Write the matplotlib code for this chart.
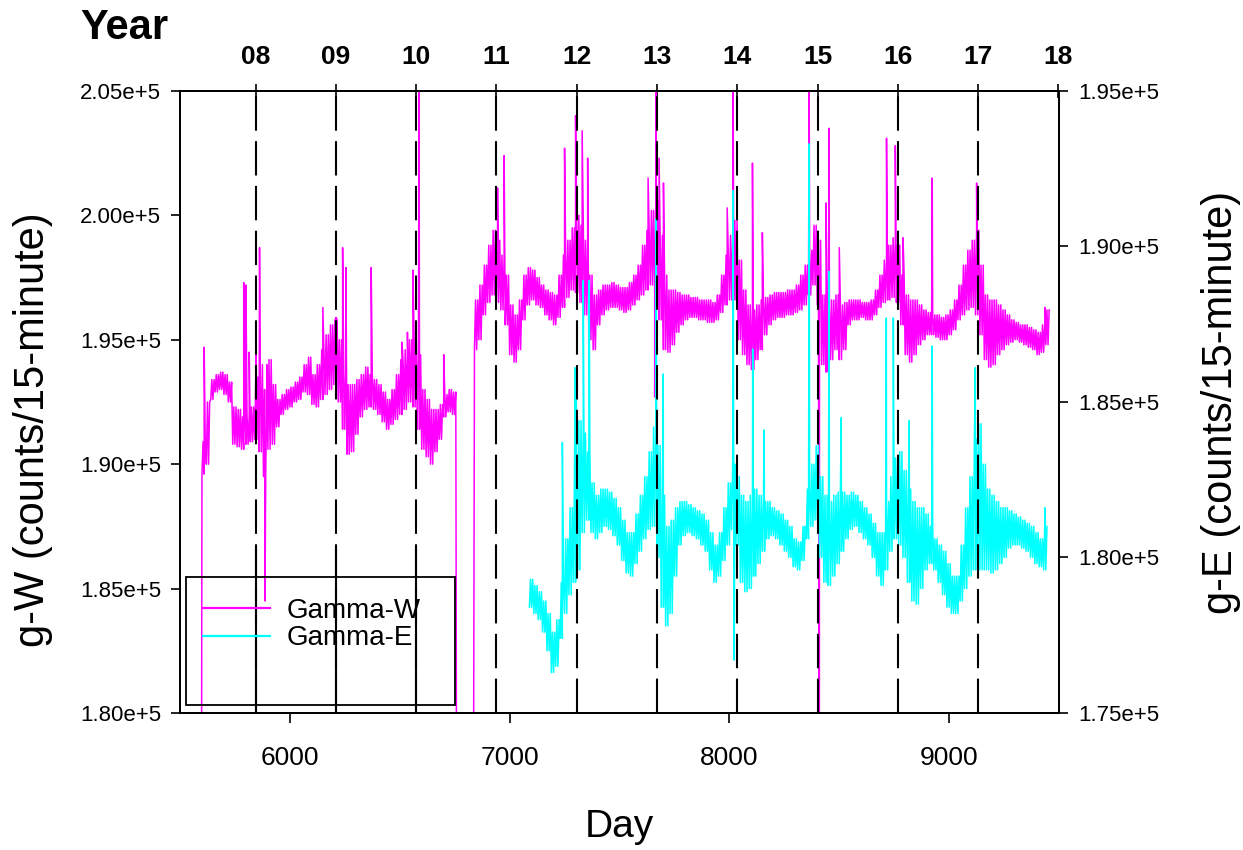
import numpy as np
import matplotlib.pyplot as plt
from matplotlib.patches import Rectangle
from matplotlib.ticker import FuncFormatter

plt.rcParams["font.family"] = ["Liberation Sans", "DejaVu Sans"]

# noise band of the 15-minute counts: (day, low, high) in 1000 counts
gamma_w_part1 = [
    (5600, 189.6, 190.9), (5620, 190.0, 192.5), (5640, 192.6, 193.4), (5660, 192.9, 193.6),
    (5680, 193.0, 193.7), (5700, 192.8, 193.6), (5720, 192.5, 193.3), (5740, 190.8, 192.3),
    (5760, 190.7, 192.2), (5780, 190.6, 191.9), (5800, 190.8, 192.0), (5820, 190.9, 192.3),
    (5840, 191.0, 193.5), (5860, 190.5, 194.0), (5880, 189.5, 193.0), (5900, 190.6, 194.2),
    (5920, 190.8, 193.2), (5940, 191.5, 192.6), (5960, 192.0, 192.8), (5980, 192.2, 193.0),
    (6000, 192.3, 193.1), (6020, 192.5, 193.3), (6040, 192.6, 193.5), (6060, 192.9, 194.0),
    (6080, 192.8, 194.3), (6100, 192.4, 193.6), (6120, 192.3, 194.0), (6140, 192.6, 194.6),
    (6160, 192.8, 195.2), (6180, 193.0, 195.6), (6200, 193.2, 195.8), (6220, 192.5, 195.0),
    (6240, 191.4, 194.0), (6260, 190.4, 193.2), (6280, 190.5, 193.2), (6300, 191.2, 193.4),
    (6320, 191.9, 193.6), (6340, 192.2, 193.9), (6360, 192.3, 193.6), (6380, 192.2, 193.4),
    (6400, 192.0, 193.2), (6420, 191.7, 192.9), (6440, 191.4, 192.6), (6460, 191.6, 193.0),
    (6480, 191.8, 193.6), (6500, 192.0, 194.2), (6520, 192.2, 194.6), (6540, 192.5, 195.0),
    (6560, 192.3, 195.2), (6580, 191.4, 194.4), (6600, 190.6, 193.0), (6620, 190.3, 192.6),
    (6640, 190.0, 192.2), (6660, 190.5, 192.2), (6680, 191.0, 192.4), (6700, 191.9, 192.8),
    (6720, 192.1, 193.0), (6740, 192.0, 192.9),
]

gamma_w_part2 = [
    (6840, 194.6, 196.6), (6860, 195.0, 197.2), (6880, 196.0, 198.0), (6900, 196.5, 198.8),
    (6920, 196.8, 199.4), (6940, 196.5, 199.0), (6960, 196.2, 198.4), (6980, 195.6, 197.6),
    (7000, 194.4, 196.4), (7020, 194.1, 196.0), (7040, 194.6, 196.6), (7060, 195.8, 197.6),
    (7080, 196.4, 197.9), (7100, 196.6, 197.8), (7120, 196.4, 197.5), (7140, 196.3, 197.2),
    (7160, 196.0, 197.0), (7180, 195.8, 196.9), (7200, 195.6, 196.8), (7220, 195.9, 197.6),
    (7240, 196.3, 198.4), (7260, 196.7, 199.0), (7280, 197.0, 199.5), (7300, 196.9, 200.0),
    (7320, 196.5, 199.6), (7340, 196.0, 199.0), (7360, 195.0, 197.6), (7380, 194.6, 196.8),
    (7400, 195.6, 197.0), (7420, 196.0, 197.2), (7440, 196.2, 197.2), (7460, 196.3, 197.3),
    (7480, 196.3, 197.2), (7500, 196.2, 197.1), (7520, 196.1, 197.1), (7540, 196.2, 197.3),
    (7560, 196.4, 197.6), (7580, 196.6, 198.0), (7600, 196.8, 198.8), (7620, 197.0, 199.4),
    (7640, 197.2, 200.2), (7660, 197.0, 200.6), (7680, 195.8, 199.2), (7700, 194.6, 197.6),
    (7720, 194.5, 197.0), (7740, 194.8, 197.0), (7760, 195.3, 196.9), (7780, 195.6, 196.8),
    (7800, 195.8, 196.8), (7820, 195.9, 196.7), (7840, 195.9, 196.7), (7860, 195.8, 196.6),
    (7880, 195.8, 196.6), (7900, 195.7, 196.6), (7920, 195.7, 196.5), (7940, 195.8, 196.8),
    (7960, 196.1, 197.6), (7980, 196.4, 198.4), (8000, 196.6, 199.2), (8020, 196.6, 199.8),
    (8040, 195.0, 198.2), (8060, 194.4, 197.0), (8080, 194.0, 196.4), (8100, 193.8, 196.2),
    (8120, 194.2, 196.4), (8140, 194.6, 196.6), (8160, 195.2, 196.7), (8180, 195.6, 196.8),
    (8200, 195.8, 196.9), (8220, 195.9, 196.9), (8240, 195.9, 196.9), (8260, 196.0, 197.0),
    (8280, 196.0, 197.0), (8300, 196.1, 197.2), (8320, 196.2, 197.6), (8340, 196.4, 198.0),
    (8360, 196.8, 198.6), (8380, 197.2, 199.6), (8400, 196.4, 199.0), (8420, 194.0, 196.8),
    (8440, 193.7, 196.4), (8460, 194.2, 196.6), (8480, 194.6, 196.8), (8500, 194.2, 196.4),
    (8520, 194.6, 196.5), (8540, 195.6, 196.6), (8560, 195.8, 196.6), (8580, 195.8, 196.6),
    (8600, 195.9, 196.5), (8620, 195.8, 196.5), (8640, 195.8, 196.6), (8660, 196.0, 197.0),
    (8680, 196.3, 197.6), (8700, 196.5, 198.2), (8720, 196.6, 198.8), (8740, 196.7, 199.1),
    (8760, 196.5, 198.8), (8780, 195.6, 197.6), (8800, 194.4, 196.8), (8820, 194.1, 196.6),
    (8840, 194.4, 196.6), (8860, 194.8, 196.4), (8880, 195.0, 196.2), (8900, 195.2, 196.1),
    (8920, 195.2, 196.0), (8940, 195.1, 196.0), (8960, 195.0, 195.9), (8980, 195.0, 196.0),
    (9000, 195.2, 196.2), (9020, 195.4, 196.6), (9040, 195.8, 197.2), (9060, 196.0, 198.0),
    (9080, 196.2, 198.6), (9100, 196.3, 199.0), (9120, 196.0, 199.4), (9140, 195.2, 198.0),
    (9160, 194.2, 196.8), (9180, 193.9, 196.6), (9200, 194.0, 196.6), (9220, 194.4, 196.4),
    (9240, 194.6, 196.2), (9260, 194.8, 196.0), (9280, 194.9, 195.8), (9300, 195.0, 195.7),
    (9320, 194.9, 195.6), (9340, 194.8, 195.6), (9360, 194.7, 195.5), (9380, 194.6, 195.4),
    (9400, 194.4, 195.3), (9420, 194.5, 195.6), (9440, 194.8, 196.2),
]

# single readings that stick out of the band (170 = dropped below the axis)
gamma_w_spikes = [
    (5597, 170.0), (5610, 194.7), (5790, 197.3), (5800, 197.2), (5815, 194.5),
    (5846, 195.1), (5862, 198.7), (5887, 184.5), (5895, 194.0), (6150, 196.3),
    (6210, 195.9), (6240, 198.7), (6255, 197.9), (6370, 197.9), (6510, 194.9),
    (6535, 195.3), (6560, 197.8), (6588, 205.5), (6700, 194.4), (6760, 170.0),
    (6834, 170.0), (6945, 201.1), (6975, 202.4), (7250, 202.7), (7300, 204.0),
    (7330, 203.4), (7355, 202.3), (7630, 201.5), (7660, 192.7), (7665, 205.5),
    (7680, 202.3), (7700, 201.3), (7990, 200.3), (8017, 205.5), (8105, 202.1),
    (8150, 199.3), (8363, 205.5), (8409, 170.0), (8440, 200.5), (8454, 203.5),
    (8500, 198.7), (8715, 203.1), (8755, 202.8), (8790, 199.1), (8923, 201.5),
    (9125, 201.3), (9435, 196.3),
]

gamma_e = [
    (7090, 178.4, 179.3), (7110, 178.2, 179.1), (7130, 178.0, 178.9), (7150, 177.6, 178.6),
    (7170, 177.0, 178.2), (7190, 176.3, 177.6), (7210, 176.5, 178.0), (7230, 177.4, 179.2),
    (7250, 178.2, 180.6), (7270, 178.8, 181.6), (7290, 179.2, 182.6), (7310, 179.6, 184.4),
    (7330, 180.8, 184.0), (7350, 181.2, 183.4), (7370, 180.8, 182.4), (7390, 180.6, 182.0),
    (7410, 180.8, 182.2), (7430, 181.0, 182.2), (7450, 180.9, 182.1), (7470, 180.7, 181.9),
    (7490, 180.4, 181.6), (7510, 179.9, 181.2), (7530, 179.5, 180.8), (7550, 179.4, 180.8),
    (7570, 179.8, 181.4), (7590, 180.2, 182.0), (7610, 180.6, 182.6), (7630, 180.9, 183.4),
    (7650, 181.0, 184.2), (7670, 180.0, 183.6), (7690, 178.4, 182.0), (7710, 177.8, 181.0),
    (7730, 178.2, 181.2), (7750, 179.4, 181.6), (7770, 180.4, 181.8), (7790, 180.7, 181.8),
    (7810, 180.8, 181.7), (7830, 180.7, 181.6), (7850, 180.6, 181.5), (7870, 180.4, 181.4),
    (7890, 180.2, 181.2), (7910, 179.6, 180.8), (7930, 179.2, 180.4), (7950, 179.4, 180.8),
    (7970, 179.9, 181.6), (7990, 180.4, 182.4), (8010, 180.9, 183.0), (8030, 180.4, 182.6),
    (8050, 179.2, 182.0), (8070, 178.9, 181.8), (8090, 179.0, 182.0), (8110, 179.4, 182.2),
    (8130, 179.8, 182.0), (8150, 180.2, 181.8), (8170, 180.6, 181.8), (8190, 180.7, 181.6),
    (8210, 180.6, 181.5), (8230, 180.4, 181.4), (8250, 180.2, 181.2), (8270, 180.0, 181.0),
    (8290, 179.7, 180.6), (8310, 179.6, 180.5), (8330, 179.9, 181.0), (8350, 180.6, 182.2),
    (8370, 181.0, 183.0), (8390, 181.2, 183.6), (8410, 180.0, 182.6), (8430, 179.2, 182.0),
    (8450, 179.1, 181.8), (8470, 179.4, 182.0), (8490, 179.8, 182.1), (8510, 180.2, 182.1),
    (8530, 180.6, 182.0), (8550, 180.9, 182.1), (8570, 181.0, 182.0), (8590, 180.8, 181.8),
    (8610, 180.6, 181.6), (8630, 180.4, 181.4), (8650, 180.0, 181.1), (8670, 179.4, 180.8),
    (8690, 179.1, 180.8), (8710, 179.6, 181.8), (8730, 180.2, 182.6), (8750, 180.6, 183.2),
    (8770, 180.4, 183.4), (8790, 180.0, 182.8), (8810, 179.2, 182.2), (8830, 178.6, 181.8),
    (8850, 178.5, 181.6), (8870, 179.0, 181.6), (8890, 179.6, 181.4), (8910, 179.8, 181.0),
    (8930, 179.6, 180.6), (8950, 179.2, 180.4), (8970, 178.8, 180.2), (8990, 178.4, 179.8),
    (9010, 178.2, 179.4), (9030, 178.2, 179.4), (9050, 178.6, 180.4), (9070, 179.0, 181.6),
    (9090, 179.4, 182.6), (9110, 179.6, 183.8), (9130, 179.6, 184.3), (9150, 179.6, 183.0),
    (9170, 179.6, 182.2), (9190, 179.5, 182.0), (9210, 179.6, 181.8), (9230, 179.8, 181.6),
    (9250, 180.0, 181.6), (9270, 180.3, 181.5), (9290, 180.4, 181.4), (9310, 180.4, 181.3),
    (9330, 180.3, 181.2), (9350, 180.2, 181.1), (9370, 180.0, 181.0), (9390, 179.8, 180.8),
    (9410, 179.7, 180.6), (9430, 179.6, 181.0),
]

gamma_e_spikes = [
    (7240, 183.7), (7298, 186.1), (7303, 186.0), (7335, 188.9), (7362, 188.9),
    (7667, 190.9), (7699, 185.9), (8017, 191.8), (8022, 176.7), (8106, 186.7),
    (8158, 184.1), (8363, 193.3), (8454, 189.2), (8509, 184.5), (8714, 187.7),
    (8746, 187.7), (8818, 184.4), (8923, 186.8), (9119, 186.1), (9435, 181.6),
]

# Jan 1 of each year, days counted from 1992-01-01
year_days = [5844, 6210, 6575, 6940, 7305, 7671, 8036, 8401, 8766, 9132, 9497]
year_labels = ["08", "09", "10", "11", "12", "13", "14", "15", "16", "17", "18"]
solid_base_years = ["08", "09", "10"]

day_ticks = [6000, 7000, 8000, 9000]
w_ticks = [180000, 185000, 190000, 195000, 200000, 205000]
e_ticks = [175000, 180000, 185000, 190000, 195000]


def band_line(rows, spikes):
    # each 20-day row is drawn as low/high/low/high strokes, 5 days apart
    rows = np.asarray(rows, dtype=float)
    offs = np.array([0, 5, 10, 15])
    x = (rows[:, :1] + offs).ravel()
    y = rows[:, [1, 2, 1, 2]].ravel()
    sx, sy = np.asarray(spikes, dtype=float).T
    x = np.concatenate([x, sx])
    y = np.concatenate([y, sy])
    order = np.argsort(x, kind="stable")
    return x[order], y[order] * 1000


def sci(v, pos):
    return f"{v / 1e5:.2f}e+5"


fig = plt.figure(figsize=(12.43, 8.5), dpi=100)
ax = fig.add_axes([0.1448, 0.1612, 0.7072, 0.7318])
ax2 = ax.twinx()

wx, wy = band_line(gamma_w_part1 + gamma_w_part2, gamma_w_spikes)
ex, ey = band_line(gamma_e, gamma_e_spikes)

line_w, = ax.plot(wx, wy, color="#ff00ff", lw=1.1, label="Gamma-W")
line_e, = ax2.plot(ex, ey, color="#00ffff", lw=1.1, label="Gamma-E")

ax.set_xlim(5500, 9500)
ax.set_ylim(180000, 205000)
ax2.set_ylim(175000, 195000)

# year markers
for d, lab in zip(year_days[:-1], year_labels[:-1]):
    ax2.axvline(d, color="black", lw=1.5, ls=(0, (16.5, 5.0)), zorder=5)
    if lab in solid_base_years:
        ax.vlines(d, 180000, 186600, color="black", lw=1.5, zorder=5)

ax.set_xticks(day_ticks)
ax.set_yticks(w_ticks)
ax2.set_yticks(e_ticks)
ax.yaxis.set_major_formatter(FuncFormatter(sci))
ax2.yaxis.set_major_formatter(FuncFormatter(sci))

ax.tick_params(axis="x", direction="out", length=7, width=1.2, labelsize=19, pad=17)
ax.tick_params(axis="y", direction="out", length=6.5, width=1.2, labelsize=16, pad=7)
ax2.tick_params(axis="y", direction="out", length=6.5, width=1.2, labelsize=16, pad=7)

top = ax.secondary_xaxis("top")
top.set_xticks(year_days, year_labels)
top.tick_params(direction="inout", length=10, width=1.2, labelsize=19, pad=11)
for t in top.get_xticklabels():
    t.set_fontweight("bold")

for a in (ax, ax2, top):
    for s in a.spines.values():
        s.set_linewidth(1.3)

ax.set_xlabel("Day", fontsize=28)
ax.xaxis.set_label_coords(0.5, -0.155)
ax.set_ylabel("g-W (counts/15-minute)", fontsize=30)
ax.yaxis.set_label_coords(-0.145, 0.455)
ax2.set_ylabel("g-E (counts/15-minute)", fontsize=30, rotation=90)
ax2.yaxis.set_label_coords(1.162, 0.5)

fig.text(80 / 1243, 1 - 8 / 850, "Year", fontsize=30, fontweight="bold", va="top", ha="left")

# legend: unfilled box, entries near its top
ax.add_patch(Rectangle((0.0068, 0.0129), 0.306, 0.206, transform=ax.transAxes,
                       fill=False, edgecolor="black", lw=1.3, zorder=6))
leg = ax2.legend(handles=[line_w, line_e], loc="upper left", bbox_to_anchor=(0.026, 0.185),
                 frameon=False, fontsize=20, handlelength=2.4, handletextpad=0.6,
                 labelspacing=0.05, borderpad=0, borderaxespad=0)
for h in leg.get_lines():
    h.set_linewidth(1.6)

fig.savefig("out.png", dpi=100)
